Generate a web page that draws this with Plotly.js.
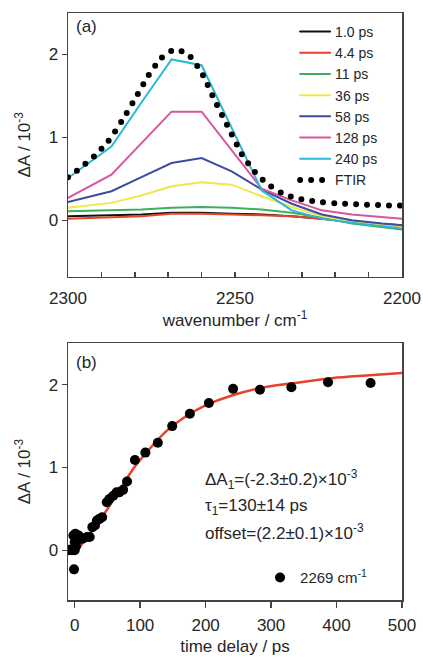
<!DOCTYPE html>
<html>
<head>
<meta charset="utf-8">
<script src="https://cdn.plot.ly/plotly-3.0.1.min.js"></script>
<style>
html,body{margin:0;padding:0;background:#fff;}
#chart{width:423px;height:657px;}
.js-line{stroke-linecap:round;}
.legendlines path{stroke-linecap:round;}
</style>
</head>
<body>
<div id="chart"></div>
<script>
// ---- Panel (a): transient spectra ----
const wavenumber = [2300, 2287, 2278, 2269, 2260, 2251, 2242, 2233, 2224, 2215, 2206, 2200];
const dA_1ps   = [0.05, 0.06, 0.07, 0.09, 0.09, 0.08, 0.07, 0.05, 0.02, -0.02, -0.04, -0.06];
const dA_4ps   = [0.02, 0.04, 0.05, 0.08, 0.08, 0.07, 0.06, 0.05, 0.02, -0.02, -0.05, -0.07];
const dA_11ps  = [0.11, 0.12, 0.13, 0.15, 0.16, 0.15, 0.13, 0.09, 0.03, -0.04, -0.08, -0.11];
const dA_36ps  = [0.15, 0.21, 0.30, 0.41, 0.46, 0.43, 0.29, 0.16, 0.05, -0.02, -0.05, -0.07];
const dA_58ps  = [0.22, 0.35, 0.52, 0.69, 0.75, 0.59, 0.37, 0.20, 0.07, 0.00, -0.04, -0.06];
const dA_128ps = [0.27, 0.55, 0.93, 1.31, 1.31, 0.85, 0.38, 0.24, 0.12, 0.07, 0.04, 0.02];
const dA_240ps = [0.51, 0.89, 1.42, 1.94, 1.87, 1.12, 0.36, 0.12, 0.02, -0.03, -0.07, -0.10];
const ftirWavenumber = [2300, 2296, 2292, 2288, 2284, 2280, 2276, 2272, 2268, 2264, 2260, 2256, 2252, 2248, 2244, 2240, 2236, 2232, 2228, 2224, 2220, 2216, 2212, 2208, 2204, 2200];
const ftir = [0.52, 0.64, 0.78, 0.95, 1.19, 1.46, 1.74, 1.96, 2.06, 2.00, 1.78, 1.44, 1.12, 0.80, 0.58, 0.43, 0.33, 0.27, 0.24, 0.22, 0.205, 0.196, 0.19, 0.185, 0.18, 0.177];
const spectraNames = ['1.0 ps', '4.4 ps', '11 ps', '36 ps', '58 ps', '128 ps', '240 ps'];

// ---- Panel (b): kinetics at 2269 cm-1 ----
const time_ps = [-10, -7, -4, -2, -1, 0, 0, 1, 2, 3, 4, 6, 8, 12, 19, 23, 27, 31, 34, 38, 42, 49, 53, 59, 64, 68, 74, 80, 92, 108, 127, 149, 176, 205, 242, 283, 331, 387, 452];
const dA_2269 = [0.0, 0.01, 0.0, 0.18, -0.23, 0.0, 0.1, 0.2, 0.05, 0.15, 0.12, 0.18, 0.16, 0.14, 0.16, 0.16, 0.28, 0.30, 0.36, 0.38, 0.40, 0.58, 0.62, 0.66, 0.70, 0.70, 0.73, 0.83, 1.09, 1.18, 1.30, 1.50, 1.65, 1.78, 1.95, 1.94, 1.97, 2.03, 2.02];
const fit_t  = [8, 20, 40, 60, 90, 115, 140, 170, 200, 240, 290, 345, 395, 445, 500];
const fit_dA = [0.04, 0.17, 0.38, 0.62, 0.99, 1.23, 1.44, 1.62, 1.75, 1.87, 1.97, 2.03, 2.08, 2.11, 2.14];

const spectra = [dA_1ps, dA_4ps, dA_11ps, dA_36ps, dA_58ps, dA_128ps, dA_240ps];
const colors = ['#111111', '#e4462b', '#3fae5f', '#f1e64a', '#3f4b9e', '#d9559d', '#2db8d3'];

const FONT = 'Arial, "Liberation Sans", sans-serif';
const TXT = '#262626';
const AX = '#444444';
const FS = 17;

const traces = spectra.map((v, i) => ({
  x: wavenumber, y: v, type: 'scatter', mode: 'lines', name: spectraNames[i],
  line: {color: colors[i], width: 2}, xaxis: 'x', yaxis: 'y', legend: 'legend'
}));
traces.push({
  x: ftirWavenumber, y: ftir, type: 'scatter', mode: 'lines', name: 'FTIR',
  line: {color: '#000000', width: 6, dash: '0px,11px', shape: 'spline', smoothing: 0.6},
  xaxis: 'x', yaxis: 'y', legend: 'legend'
});
traces.push({
  x: fit_t, y: fit_dA, type: 'scatter', mode: 'lines', name: 'fit', showlegend: false,
  line: {color: '#e8412c', width: 2.5, shape: 'spline', smoothing: 0.8},
  xaxis: 'x2', yaxis: 'y2'
});
traces.push({
  x: time_ps, y: dA_2269, type: 'scatter', mode: 'markers', name: '2269 cm<sup>-1</sup>',
  marker: {color: '#000000', size: 10}, xaxis: 'x2', yaxis: 'y2', legend: 'legend2'
});

const axBase = {
  showline: true, mirror: true, linecolor: AX, linewidth: 1.5,
  showgrid: false, zeroline: false, tickcolor: AX, tickwidth: 1.5,
  tickfont: {family: FONT, size: FS, color: TXT}
};

const layout = {
  width: 423, height: 657,
  margin: {l: 68, r: 21, t: 13, b: 57},
  paper_bgcolor: '#ffffff', plot_bgcolor: '#ffffff',
  font: {family: FONT, color: TXT},
  xaxis: Object.assign({}, axBase, {
    range: [2300, 2200], anchor: 'y', dtick: 50, ticks: 'inside', ticklen: 5,
    minor: {dtick: 10, ticks: 'inside', ticklen: 5, tickcolor: AX, tickwidth: 1.5},
    ticklabelstandoff: 5,
    title: {text: 'wavenumber / cm<sup>-1</sup>', font: {family: FONT, size: FS, color: TXT}, standoff: 1}
  }),
  yaxis: Object.assign({}, axBase, {
    range: [-0.68, 2.5], domain: [0.5508, 1], anchor: 'x', dtick: 1, tick0: 0,
    ticks: 'outside', ticklen: 5,
    title: {text: 'ΔA / 10<sup>-3</sup>', font: {family: FONT, size: FS, color: TXT}, standoff: 13}
  }),
  xaxis2: Object.assign({}, axBase, {
    range: [-10.2, 500], anchor: 'y2', dtick: 100, tick0: 0, ticks: 'outside', ticklen: 6,
    ticklabelstandoff: 3,
    title: {text: 'time delay / ps', font: {family: FONT, size: FS, color: TXT}, standoff: 6}
  }),
  yaxis2: Object.assign({}, axBase, {
    range: [-0.6, 2.5], domain: [0, 0.4373], anchor: 'x2', dtick: 1, tick0: 0,
    ticks: 'outside', ticklen: 5,
    title: {text: 'ΔA / 10<sup>-3</sup>', font: {family: FONT, size: FS, color: TXT}, standoff: 13}
  }),
  legend: {
    x: 0.68, y: 0.995, xanchor: 'left', yanchor: 'top',
    bgcolor: 'rgba(0,0,0,0)', borderwidth: 0,
    font: {family: FONT, size: 14, color: TXT}, tracegroupgap: 0
  },
  legend2: {
    x: 0.575, y: 0.066, xanchor: 'left', yanchor: 'top',
    bgcolor: 'rgba(0,0,0,0)', borderwidth: 0,
    font: {family: FONT, size: 15, color: TXT}
  },
  showlegend: true,
  annotations: [
    {text: '(a)', xref: 'x domain', yref: 'y domain', x: 0.018, y: 0.948, xanchor: 'left', yanchor: 'middle',
     showarrow: false, font: {family: FONT, size: FS, color: TXT}},
    {text: '(b)', xref: 'x2 domain', yref: 'y2 domain', x: 0.018, y: 0.927, xanchor: 'left', yanchor: 'middle',
     showarrow: false, font: {family: FONT, size: FS, color: TXT}},
    {text: 'ΔA<sub>1</sub>=(-2.3±0.2)×10<sup>-3</sup>', xref: 'x2 domain', yref: 'y2 domain', x: 0.405, y: 0.471,
     xanchor: 'left', yanchor: 'middle', showarrow: false, font: {family: FONT, size: FS, color: TXT}},
    {text: 'τ<sub>1</sub>=130±14 ps', xref: 'x2 domain', yref: 'y2 domain', x: 0.405, y: 0.363,
     xanchor: 'left', yanchor: 'middle', showarrow: false, font: {family: FONT, size: FS, color: TXT}},
    {text: 'offset=(2.2±0.1)×10<sup>-3</sup>', xref: 'x2 domain', yref: 'y2 domain', x: 0.405, y: 0.265,
     xanchor: 'left', yanchor: 'middle', showarrow: false, font: {family: FONT, size: FS, color: TXT}}
  ]
};

Plotly.newPlot('chart', traces, layout, {displayModeBar: false, staticPlot: true});
</script>
</body>
</html>
